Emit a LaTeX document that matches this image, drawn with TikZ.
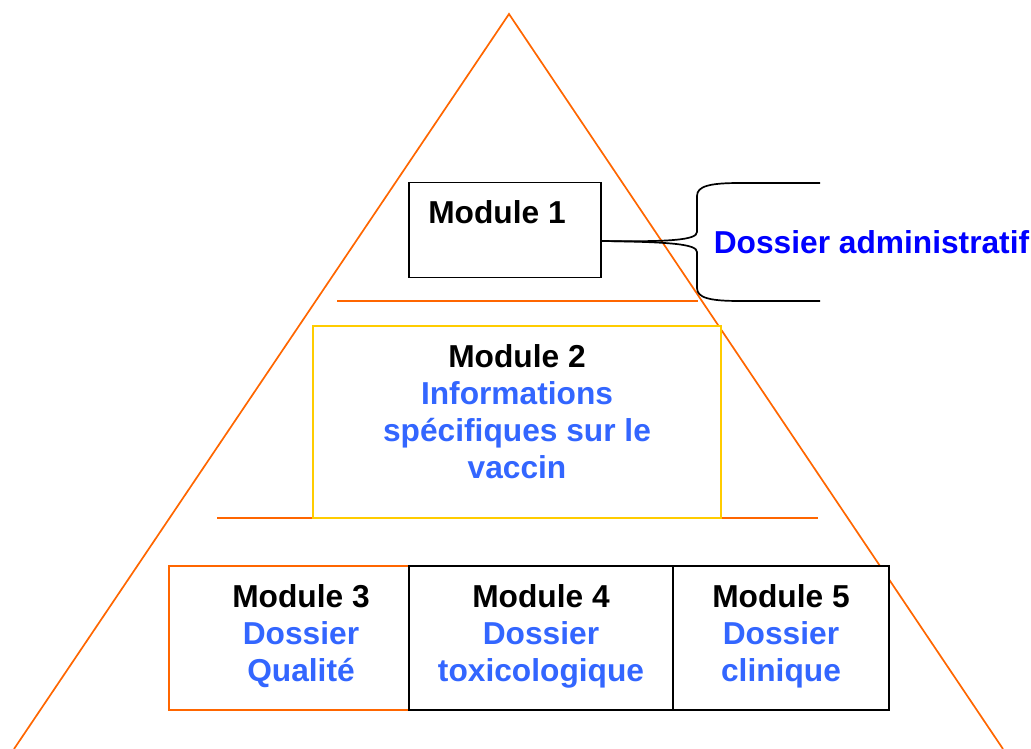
\documentclass[tikz,border=0pt]{standalone}
\usepackage{fontspec}
\setmainfont{Liberation Sans}
\usetikzlibrary{positioning}
\definecolor{pyrorange}{HTML}{FF6600}
\definecolor{pyryellow}{HTML}{FFCC00}
\definecolor{modblue}{HTML}{3366FF}
\definecolor{admblue}{HTML}{0000FF}

\begin{document}
\begin{tikzpicture}[x=1pt,y=-1pt,line width=1.7pt,
  box/.style={rectangle,draw,fill=white,inner sep=0pt},
  modtext/.style={anchor=north,inner sep=0pt,align=center,
    font=\fontsize{31.7}{37}\selectfont\bfseries},
  sub/.style={text=modblue}]
\def\yTop{301}
\def\yMid{518}
\useasboundingbox (0,0) rectangle (1031,749);
\clip (0,0) rectangle (1031,749);

% pyramid
\draw[pyrorange] (14,749) -- (509,14) -- (1003,749);
\draw[pyrorange] (337,\yTop) -- (698,\yTop);
\draw[pyrorange] (217,\yMid) -- (818,\yMid);

\path
(505,230) node [box,minimum width=192pt,minimum height=95pt] (m1) {}
(517,422) node [box,draw=pyryellow,minimum width=408pt,minimum height=192pt] (m2) {}
(289,638) node [box,draw=pyrorange,minimum width=240pt,minimum height=144pt] (m3) {}
(541,638) node [box,minimum width=264pt,minimum height=144pt] (m4) {}
(781,638) node [box,minimum width=216pt,minimum height=144pt] (m5) {}
;

\node[modtext] (t1) at ([xshift=-8pt,yshift=-18pt]m1.north) {Module 1};
\node[modtext] (t2) at ([yshift=-19pt]m2.north) {Module 2\\\color{modblue}Informations\\\color{modblue}spécifiques sur le\\\color{modblue}vaccin};
\node[modtext] (t3) at ([xshift=12pt,yshift=-19pt]m3.north) {Module 3\\\color{modblue}Dossier\\\color{modblue}Qualité};
\node[modtext] (t4) at ([yshift=-19pt]m4.north) {Module 4\\\color{modblue}Dossier\\\color{modblue}toxicologique};
\node[modtext] (t5) at ([yshift=-19pt]m5.north) {Module 5\\\color{modblue}Dossier\\\color{modblue}clinique};

% brace
\coordinate (stem) at ([yshift=-11pt]m1.east);
\coordinate (bracetop) at (820,183);
\coordinate (bracebot) at (820,301);
\draw (stem) .. controls (670,242) and (697,240) .. (697,232) -- (697,196)
  .. controls (697,186) and (710,183) .. (740,183) -- (bracetop);
\draw (stem) .. controls (670,242) and (697,244) .. (697,252) -- (697,288)
  .. controls (697,298) and (710,301) .. (740,301) -- (bracebot);
\node[anchor=base west,inner sep=0pt,text=admblue,
  font=\fontsize{31.7}{37}\selectfont\bfseries] (dadmin) at (713,253) {Dossier administratif};
\end{tikzpicture}
\end{document}
